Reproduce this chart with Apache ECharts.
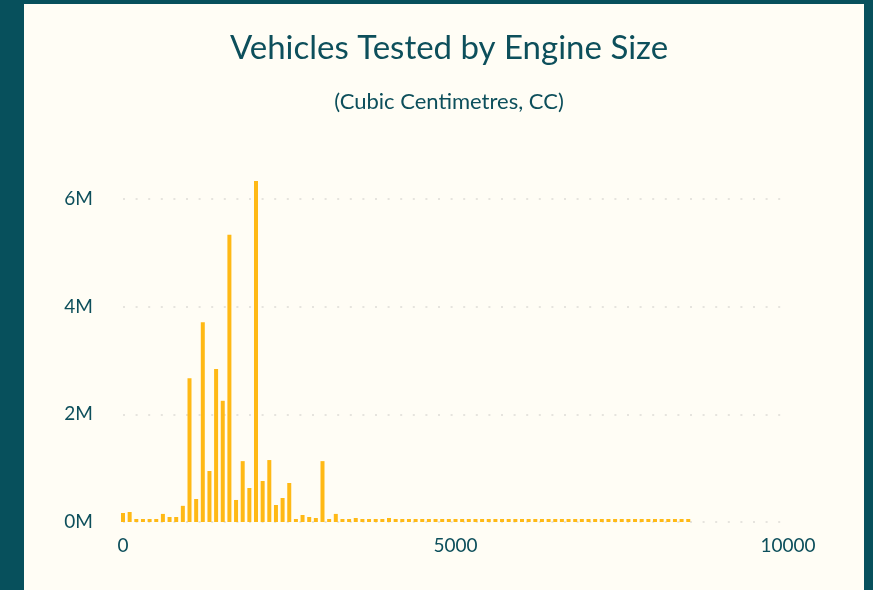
<!DOCTYPE html>
<html>
<head>
<meta charset="utf-8">
<title>Vehicles Tested by Engine Size</title>
<script src="https://cdn.jsdelivr.net/npm/echarts@6/dist/echarts.min.js"></script>
<style>
  html, body { margin: 0; padding: 0; background: #07505c; overflow: hidden; }
  #card { position: absolute; left: 24px; top: 4px; width: 840px; height: 600px; background: #fffdf5; }
  #chart { position: absolute; left: 0; top: 0; width: 873px; height: 590px; }
</style>
</head>
<body>
<div id="card"></div>
<div id="chart"></div>
<script>
// engine size bins (cc)
var engineSizes = [
  0, 100, 200, 300, 400, 500, 600, 700, 800, 900,
  1000, 1100, 1200, 1300, 1400, 1500, 1600, 1700, 1800, 1900,
  2000, 2100, 2200, 2300, 2400, 2500, 2600, 2700, 2800, 2900,
  3000, 3100, 3200, 3300, 3400, 3500, 3600, 3700, 3800, 3900,
  4000, 4100, 4200, 4300, 4400, 4500, 4600, 4700, 4800, 4900,
  5000, 5100, 5200, 5300, 5400, 5500, 5600, 5700, 5800, 5900,
  6000, 6100, 6200, 6300, 6400, 6500, 6600, 6700, 6800, 6900,
  7000, 7100, 7200, 7300, 7400, 7500, 7600, 7700, 7800, 7900,
  8000, 8100, 8200, 8300, 8400, 8500
];
// vehicles tested per bin
var vehicles = [
  167000, 186000, 50000, 50000, 50000, 50000, 150000, 93000, 93000, 300000,
  2670000, 427000, 3710000, 947000, 2840000, 2250000, 5330000, 409000, 1130000, 631000,
  6330000, 761000, 1150000, 316000, 446000, 724000, 50000, 130000, 93000, 74000,
  1130000, 50000, 150000, 50000, 50000, 74000, 50000, 50000, 50000, 50000,
  74000, 50000, 50000, 50000, 50000, 50000, 50000, 50000, 50000, 50000,
  50000, 50000, 50000, 50000, 50000, 50000, 50000, 50000, 50000, 50000,
  50000, 50000, 50000, 50000, 50000, 50000, 50000, 50000, 50000, 50000,
  50000, 50000, 50000, 50000, 50000, 50000, 50000, 50000, 50000, 50000,
  50000, 50000, 50000, 50000, 50000, 50000
];
var yTicks = [0, 2000000, 4000000, 6000000];

var textColor = '#0d4f5b';
var font = 'Lato, "Noto Sans", sans-serif';

var chart = echarts.init(document.getElementById('chart'));
chart.setOption({
  backgroundColor: 'transparent',
  title: {
    text: 'Vehicles Tested by Engine Size',
    subtext: '(Cubic Centimetres, CC)',
    left: 444,
    textAlign: 'center',
    top: 27,
    itemGap: 26,
    textStyle: { color: textColor, fontFamily: font, fontSize: 33, fontWeight: 'normal' },
    subtextStyle: { color: textColor, fontFamily: font, fontSize: 22 }
  },
  grid: { left: 123, right: 85, top: 181, bottom: 68 },
  xAxis: {
    type: 'value',
    min: 0,
    max: 10000,
    interval: 5000,
    axisLine: { show: false },
    axisTick: { show: false },
    splitLine: { show: false },
    axisLabel: {
      color: textColor, fontFamily: font, fontSize: 19, margin: 14,
      formatter: function (v) { return String(v); }
    }
  },
  yAxis: {
    type: 'value',
    min: 0,
    max: function (v) { return v.max; },
    interval: yTicks[1] - yTicks[0],
    axisLine: { show: false },
    axisTick: { show: false },
    axisLabel: {
      color: textColor, fontFamily: font, fontSize: 19, margin: 30,
      showMaxLabel: false,
      formatter: function (v) { return yTicks.indexOf(v) >= 0 ? (v / 1000000) + 'M' : ''; }
    },
    splitLine: {
      showMaxLine: false,
      lineStyle: { color: '#e6e4de', width: 2, type: [2, 10.6] }
    }
  },
  series: [{
    type: 'bar',
    barWidth: 4,
    barMinHeight: 3,
    itemStyle: { color: '#ffb915' },
    data: engineSizes.map(function (s, i) { return [s, vehicles[i]]; })
  }]
});
</script>
</body>
</html>
